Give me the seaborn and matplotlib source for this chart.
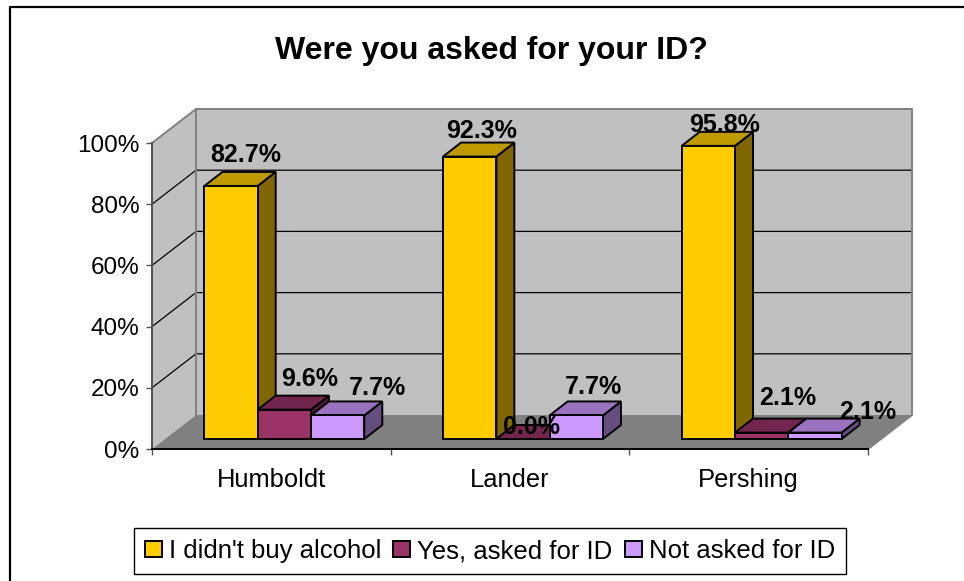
import numpy as np
import pandas as pd
import seaborn as sns
import matplotlib.pyplot as plt
from matplotlib.colors import to_rgb
from matplotlib.lines import Line2D
from matplotlib.patches import Patch, Polygon

counties = ["Humboldt", "Lander", "Pershing"]
answers = ["I didn't buy alcohol", "Yes, asked for ID", "Not asked for ID"]
no_alcohol = [82.7, 92.3, 95.8]
asked = [9.6, 0.0, 2.1]
not_asked = [7.7, 7.7, 2.1]
y_ticks = [0, 20, 40, 60, 80, 100]
colors = ["#FFCC00", "#993366", "#CC99FF"]

# nudges of the value labels from the bar top, pixels, by answer then county
label_dx = [[15, 12, 16], [25, 8, 26], [40, 17, 53]]
label_dy = [[24, 19, 14], [24, 5, 28], [20, 21, 14]]

W, H = 964, 581
AX_L, AX_R, AX_B, AX_T = 152, 868, 449, 143
px_x = 3 / (AX_R - AX_L)
px_y = 100 / (AX_B - AX_T)

# depth of the box and of the bars, pixels
WALL_DX, WALL_DY = 44 * px_x, 34 * px_y
SHIFT_DX, SHIFT_DY = 13 * px_x, 10 * px_y
BAR_DX, BAR_DY = 18 * px_x, 14 * px_y


def shade(color, k):
    return tuple(c * k for c in to_rgb(color))


df = pd.DataFrame({
    "county": counties * 3,
    "answer": np.repeat(answers, 3),
    "share": no_alcohol + asked + not_asked,
})

sns.set_theme(style="white")
plt.rcParams["font.family"] = ["Liberation Sans", "DejaVu Sans"]

fig = plt.figure(figsize=(W / 100, H / 100), dpi=100)
ax = fig.add_axes([AX_L / W, 1 - AX_B / H, (AX_R - AX_L) / W, (AX_B - AX_T) / H])
ax.patch.set_alpha(0)

sns.barplot(data=df, x="county", y="share", hue="answer", hue_order=answers,
            palette=colors, width=0.67, edgecolor="black", linewidth=1.4,
            saturation=1, legend=False, ax=ax)
ax.set_xlim(-0.5, 2.5)
ax.set_ylim(0, 100)
ax.set_xlabel("")
ax.set_ylabel("")

x0, x1 = ax.get_xlim()
wall_kw = dict(clip_on=False, zorder=0.5, linewidth=0)
ax.add_patch(Polygon([(x0, 0), (x0 + WALL_DX, WALL_DY), (x0 + WALL_DX, 100 + WALL_DY), (x0, 100)],
                     facecolor="#C0C0C0", **wall_kw))
ax.add_patch(Polygon([(x0 + WALL_DX, WALL_DY), (x1 + WALL_DX, WALL_DY),
                      (x1 + WALL_DX, 100 + WALL_DY), (x0 + WALL_DX, 100 + WALL_DY)],
                     facecolor="#C0C0C0", **wall_kw))
ax.add_patch(Polygon([(x0, 0), (x1, 0), (x1 + WALL_DX, WALL_DY), (x0 + WALL_DX, WALL_DY)],
                     facecolor="#808080", **wall_kw))

for t in y_ticks[1:-1]:
    ax.plot([x0, x0 + WALL_DX, x1 + WALL_DX], [t, t + WALL_DY, t + WALL_DY],
            color="black", lw=0.9, clip_on=False, zorder=0.6)
ax.plot([x0, x0 + WALL_DX, x1 + WALL_DX, x1 + WALL_DX, x1],
        [100, 100 + WALL_DY, 100 + WALL_DY, WALL_DY, 0],
        color="#808080", lw=1.4, clip_on=False, zorder=0.7)
ax.plot([x0 + WALL_DX, x0 + WALL_DX], [WALL_DY, 100 + WALL_DY],
        color="#808080", lw=1.4, clip_on=False, zorder=0.7)

z = 1
for i, bars in enumerate(ax.containers):
    for j, bar in enumerate(bars):
        x = bar.get_x() + SHIFT_DX
        w = bar.get_width()
        h = bar.get_height()
        bar.set_x(x)
        bar.set_y(SHIFT_DY)
        bar.set_clip_on(False)
        top = SHIFT_DY + h
        edge = dict(edgecolor="black", linewidth=1.4, clip_on=False, joinstyle="miter")
        ax.add_patch(Polygon([(x + w, SHIFT_DY), (x + w + BAR_DX, SHIFT_DY + BAR_DY),
                              (x + w + BAR_DX, top + BAR_DY), (x + w, top)],
                             facecolor=shade(colors[i], 0.5), zorder=z, **edge))
        ax.add_patch(Polygon([(x, top), (x + BAR_DX, top + BAR_DY),
                              (x + w + BAR_DX, top + BAR_DY), (x + w, top)],
                             facecolor=shade(colors[i], 0.75), zorder=z, **edge))
        bar.set_zorder(z + 0.1)
        z += 1
        ax.annotate(f"{h:.1f}%", (x + w / 2, top),
                    xytext=(label_dx[i][j], label_dy[i][j]), textcoords="offset pixels",
                    ha="center", va="baseline", fontsize=18, fontweight="bold",
                    color="black", zorder=50, annotation_clip=False)

sns.despine(ax=ax, top=True, right=True)
ax.spines["left"].set_color("#505050")
ax.spines["left"].set_linewidth(1.4)
ax.spines["bottom"].set_color("black")
ax.spines["bottom"].set_linewidth(1.4)
ax.spines["bottom"].set_zorder(40)

ax.set_yticks(y_ticks)
ax.set_yticklabels([f"{t}%" for t in y_ticks])
ax.set_xticks(range(len(counties)))
ax.set_xticklabels(counties)
ax.set_xticks([-0.5, 0.5, 1.5, 2.5], minor=True)
ax.tick_params(axis="y", left=True, length=4, width=1, color="#505050", pad=5,
               labelsize=17.5, labelcolor="black")
ax.tick_params(axis="x", which="major", bottom=False, pad=7.5, labelsize=18.4, labelcolor="black")
ax.tick_params(axis="x", which="minor", bottom=True, length=4, width=1, color="#505050")

fig.text(491 / W, 1 - 59 / H, "Were you asked for your ID?", ha="center", va="baseline",
         fontsize=23, fontweight="bold", color="black")

handles = [Patch(facecolor=c, edgecolor="black", linewidth=1.4) for c in colors]
fig.legend(handles, answers, ncols=3, loc="center", bbox_to_anchor=(490 / W, 1 - 551 / H),
           fontsize=18.5, frameon=True, fancybox=False, framealpha=1, edgecolor="black",
           handlelength=0.66, handleheight=0.62, handletextpad=0.27, columnspacing=0.47,
           borderpad=0.42, borderaxespad=0, labelcolor="black")

# outer chart frame, cut off on the right and bottom in the source
fig.add_artist(Line2D([10 / W, 10 / W, 1], [0, 1 - 7 / H, 1 - 7 / H], color="black", lw=1.6))

fig.savefig("out.png", dpi=100)
